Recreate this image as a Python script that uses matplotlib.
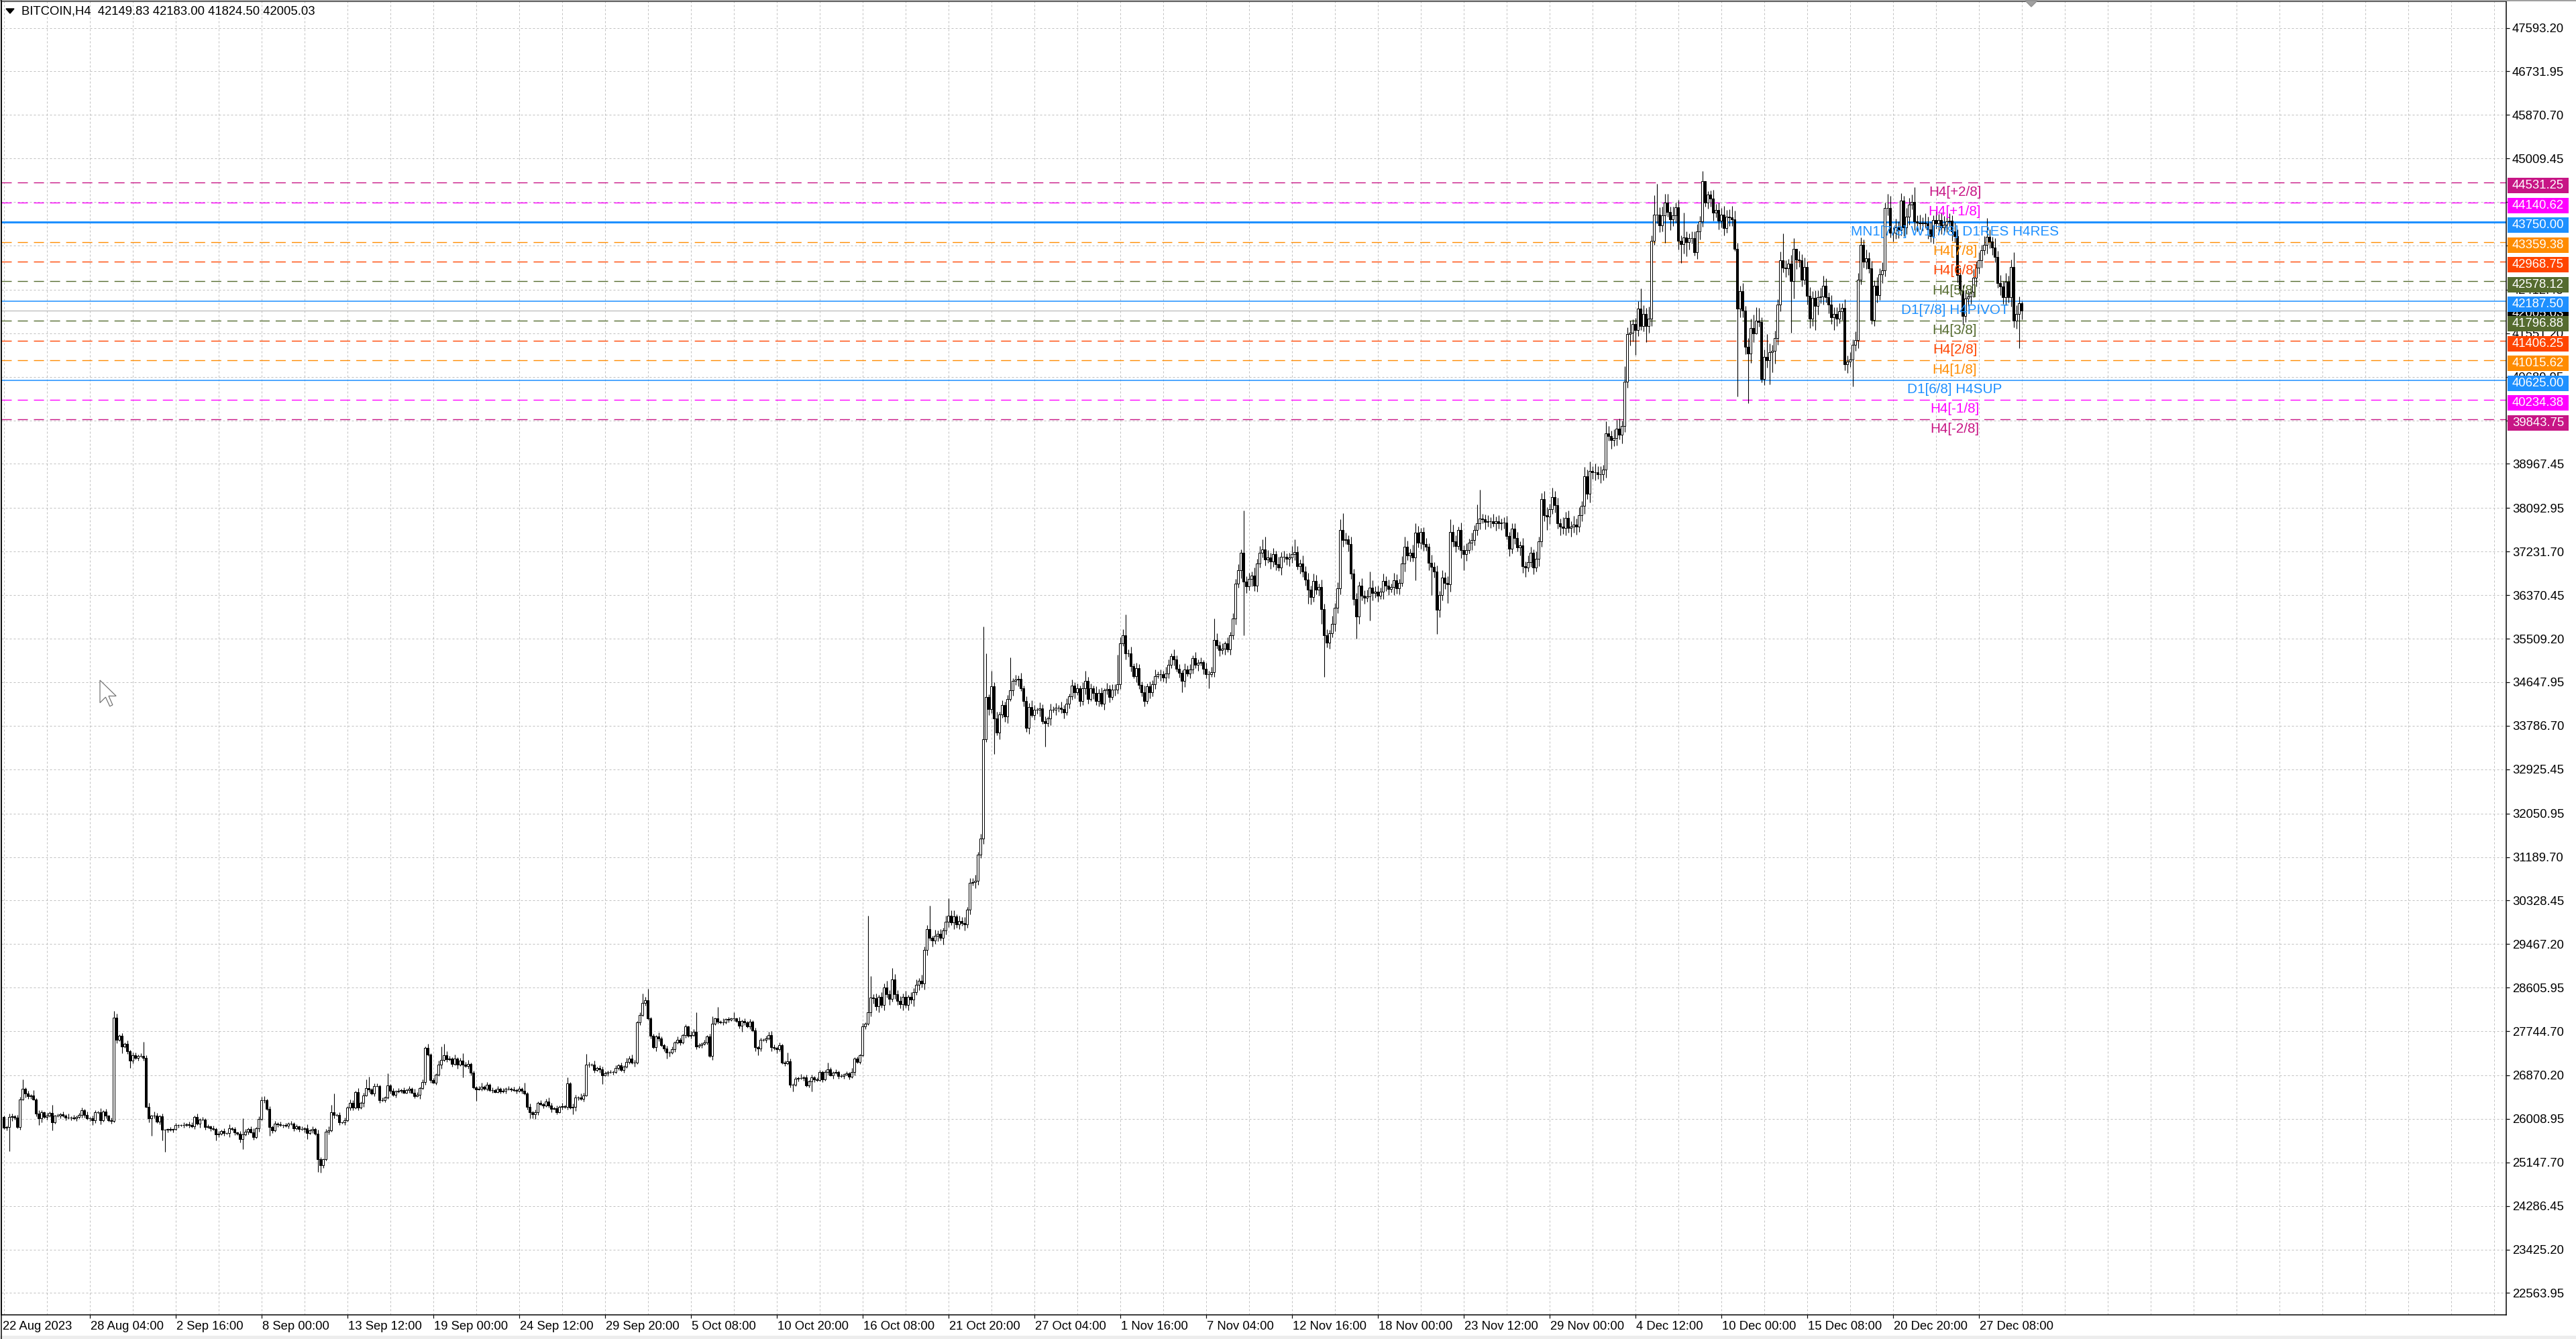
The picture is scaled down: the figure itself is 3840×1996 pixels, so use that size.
import matplotlib
matplotlib.use('Agg')
import matplotlib.pyplot as plt
import matplotlib.transforms as mtransforms
from matplotlib.patches import Rectangle, Polygon
from matplotlib.lines import Line2D

plt.rcParams['font.family'] = ['Liberation Sans', 'DejaVu Sans']

W, H, DPI = 3840, 1996, 100
PX = 72.0 / DPI  # points per pixel

# ---------------- data ----------------
header_text = "BITCOIN,H4  42149.83 42183.00 41824.50 42005.03"
first_open = 26050

# closes (H4 bars)
closes_A = [25837, 25846, 26044, 26058, 26040, 25846, 26398, 26605, 26508, 26455,
            26473, 26398, 26111, 26014, 26133, 26044, 26075, 26124, 25934, 26067,
            26067, 26097, 26075, 26031, 26036, 26031, 26022, 26049, 26080, 26177,
            26080, 26022, 26022, 25978, 26133, 26146, 25978, 26155, 26067, 25978,
            25969, 28010, 27577, 27657, 27445, 27489, 27348, 27162, 27268, 27215,
            27259, 27259, 27215, 26252, 26022, 26067, 26075, 25956, 26058, 25788,
            25788, 25802, 25788, 25802, 25881, 25881, 25881, 25890, 25899, 25890,
            25855, 26044, 25912, 26000, 26000, 25846, 25855, 25824, 25810, 25704,
            25713, 25766, 25722, 25722, 25824, 25802, 25735, 25713, 25603, 25704,
            25757, 25810, 25748, 25647, 25824, 26009, 26376, 26385, 26208, 25846,
            25780, 25912, 25899, 25881, 25881, 25868, 25912, 25912, 25824, 25855,
            25810, 25810, 25824, 25722, 25780, 25810, 25713, 25205, 25094, 25205,
            25757, 25780, 26133, 26089, 26089, 25934, 25934, 25978, 26235, 26323,
            26235, 26544, 26235, 26323, 26477, 26619, 26588, 26508, 26663, 26663,
            26376, 26385, 26429, 26676, 26561, 26486, 26552, 26570, 26583, 26530,
            26574, 26605, 26530, 26464, 26486, 26619, 26738, 27414, 27281, 26773,
            26729, 26884, 27082, 27171]
upper_A = "2132122312 1213212131 2121312122 1312213121 2321213122 1212313212 1121211212 2131212121 2121312121 2123121312 1212121212 1213121321 2312121213 2131213122 1212121212 1213212131 2131"
lower_A = "1213212132 2121312121 1212121212 2121213121 2131212321 2121312123 1212121212 1213121212 2121312122 1212131212 2121212121 2132121312 1213121212 2121312121 2121212121 1212131212 1213"
highs_A = {0: 26067, 7: 26795, 11: 26575, 18: 26288, 41: 28143, 42: 28085, 52: 27533,
           89: 26022, 96: 26442, 122: 26288, 123: 26517, 135: 26795, 136: 26840,
           143: 26906, 163: 27445}
lows_A = {0: 25810, 2: 25369, 13: 25890, 18: 25780, 33: 25890, 44: 27303, 47: 27016,
          55: 25678, 59: 25581, 60: 25351, 79: 25581, 88: 25537, 89: 25404, 99: 25669,
          113: 25603, 117: 24962, 118: 24940}

closes_B = [27272, 27183, 27206, 27095, 27206, 27082, 27161, 27082, 27051, 27095,
            26919, 26631, 26596, 26609, 26645, 26609, 26684, 26578, 26578, 26543,
            26609, 26556, 26565, 26609, 26609, 26596, 26578, 26565, 26609, 26565,
            26508, 26243, 26137, 26101, 26137, 26331, 26300, 26269, 26357, 26278,
            26212, 26225, 26146, 26243, 26256, 26243, 26711, 26234, 26243, 26433,
            26433, 26402, 26477, 27082, 27082, 27082, 26976, 27020, 26993, 26875,
            26905, 26932, 26932, 26932, 27020, 27073, 26976, 27038, 27139, 27206,
            27126, 27117, 27921, 28067, 28297, 28354, 28001, 27647, 27427, 27638,
            27594, 27471, 27404, 27316, 27316, 27390, 27524, 27568, 27515, 27669,
            27833, 27656, 27669, 27736, 27435, 27462, 27493, 27524, 27638, 27250,
            27890, 27992, 27935, 27921, 27921, 27979, 27965, 27992, 27992, 27948,
            27846, 27948, 27921, 27833, 27935, 27758, 27427, 27404, 27568, 27568,
            27603, 27669, 27427, 27418, 27391, 27471, 27117, 27108, 27152, 26684,
            26684, 26799, 26817, 26817, 26830, 26675, 26755, 26830, 26786, 26773,
            26932, 26786, 26932, 26985, 26875, 26919, 26941, 26852, 26852, 26888,
            26905, 26843, 26941, 27197, 27139, 27272, 27833, 27890, 28111, 28407]
upper_B = "2321312123 1212312121 2121212121 2131212123 2121312132 1321213122 2121212132 3212132121 3212121321 2132121212 2121312121 3121212121 2132121212 1213121212 2121212121 2131213121"
lower_B = "1212131212 2131212121 1212121212 1213121212 3121212123 2121212132 1212121212 1312121213 2121312121 2121212121 3121212121 2121213121 2132121212 2121212121 1212131212 1213121213"
highs_B = {0: 27493, 7: 27303, 30: 26720, 46: 26830, 53: 27294, 74: 28487, 76: 28584,
           94: 28111, 100: 28044, 102: 28230, 108: 28111, 121: 27727, 128: 27316,
           143: 27126, 158: 30022, 159: 28834}
lows_B = {7: 26830, 12: 26366, 32: 26022, 34: 26013, 48: 26101, 59: 26698, 83: 27197,
          111: 27736, 117: 27272, 124: 27303, 130: 26552, 137: 26552}

closes_C = [28390, 28238, 28417, 28257, 28610, 28482, 28385, 28770, 28482, 28340,
            28276, 28417, 28257, 28417, 28366, 28514, 28661, 28738, 28687, 29348,
            29765, 29585, 29540, 29624, 29668, 29585, 29733, 29906, 30035, 29893,
            30009, 29861, 29925, 29880, 29861, 30150, 30676, 30696, 30715, 31241,
            31549, 33520, 34354, 34116, 34566, 33937, 33648, 34014, 34193, 33969,
            34322, 34482, 34675, 34694, 34707, 34527, 34270, 33744, 34161, 34001,
            34097, 34097, 34129, 33872, 33840, 33924, 34097, 34097, 34142, 34142,
            34116, 34052, 34225, 34373, 34578, 34450, 34527, 34270, 34527, 34675,
            34322, 34527, 34437, 34270, 34437, 34225, 34482, 34514, 34354, 34501,
            34501, 34610, 35413, 35573, 35220, 35220, 34964, 34771, 34931, 34591,
            34450, 34270, 34566, 34450, 34610, 34771, 34803, 34803, 34739, 34822,
            34996, 35169, 35105, 34912, 34835, 34675, 34899, 34822, 34899, 35124,
            34996, 35028, 35041, 34912, 34803, 34803, 34848, 35490, 35381, 35284,
            35316, 35413, 35297, 35573, 35913]
upper_C = "3424353243 4352434253 3425342534 5243524352 4352435243 3524352435 4253425342 5342534253 3425342534 4352435243 3524352435 4253425342 5342534253 42534"
lower_C = "4352435243 3524352435 4253425342 5342534253 3425342534 5243524352 4352435243 3524352435 4253425342 5342534253 3425342534 4352435243 3524352435 35243"
highs_C = {7: 28995, 21: 30227, 28: 30375, 41: 35747, 42: 35220, 44: 34867, 51: 35143,
           79: 34867, 91: 35188, 93: 35702, 94: 35990, 127: 35913}
lows_C = {45: 33231, 64: 33372, 115: 34450, 125: 34527}

closes_D = [36594, 36859, 37204, 36638, 36541, 36691, 36762, 36558, 36991, 37212,
            37279, 37080, 37111, 37036, 37177, 36983, 36921, 37124, 37124, 37089,
            37115, 37186, 37221, 36947, 37000, 36837, 36682, 36483, 36337, 36647,
            36483, 36527, 36099, 35577, 35436, 35612, 35807, 36116, 36505, 37654,
            37456, 37478, 37380, 36793, 36293, 35953, 36558, 36364, 36320, 36350,
            36514, 36417, 36439, 36364, 36439, 36647, 36558, 36496, 36527, 36660,
            36505, 36616, 36991, 37323, 37159, 37212, 37115, 37610, 37411, 37619,
            37380, 37323, 37013, 36925, 36837, 36085, 36373, 36718, 36616, 36585,
            37619, 37433, 37345, 37654, 37257, 37177, 37265, 37411, 37455, 37654,
            37796, 37884, 37867, 37822, 37831, 37831, 37796, 37831, 37787, 37809,
            37809, 37544, 37292, 37690, 37500, 37310, 37354, 36938, 36912, 37027,
            37204, 36912, 37089, 37434, 38264, 37955, 37928, 38074, 38309]
upper_D = "4536453645 5364536453 4645364536 5364536453 4536453645 3645364536 5364536453 4536453645 6453645364 5364536453 4536453645 536453645"
lower_D = "5364536453 4536453645 6453645364 4536453645 5364536453 3645364536 4536453645 5364536453 6453645364 4536453645 5364536453 453645364"
highs_D = {3: 38039, 10: 37478, 11: 37522, 22: 37469, 39: 37867, 40: 37986, 50: 36837,
           63: 37531, 67: 37787, 80: 37876, 81: 37765, 90: 38163, 91: 38450, 92: 37973,
           103: 37787, 115: 38428, 118: 38494}
lows_D = {3: 35577, 27: 36205, 32: 35807, 33: 34759, 45: 35511, 50: 35864, 67: 36660,
          73: 36373, 75: 35599, 79: 36218, 85: 36859, 102: 37146, 107: 36815, 108: 36726,
          116: 37663}

closes_E = [38152, 37788, 37732, 37704, 37900, 37704, 37732, 37760, 37721, 37956,
            38135, 38728, 38376, 38823, 38796, 38795, 38767, 38767, 38851, 39568,
            39523, 39439, 39478, 39663, 39551, 39719, 40597, 41537, 41566, 41733,
            41621, 42041, 41694, 41929, 41694, 41845, 43384, 43899, 43899, 43692,
            43888, 44140, 43955, 43804, 43888, 44044, 43384, 43317, 43441, 43356,
            43429, 43440, 43149, 43563, 43765, 44559, 44140, 44291, 44212, 43944,
            43988, 43776, 43899, 43636, 43860, 43843, 43804, 43216, 42041, 42388,
            41996, 41286, 41146, 41661, 41549, 41806, 41780, 40653, 41078, 41023,
            41174, 41202, 41454, 42125, 42992, 42852, 42835, 42925, 42589, 43227,
            43003, 42992, 42612, 42869, 42293, 41845, 42254, 42097, 42265, 42276,
            42489, 42265, 42125, 41873, 41940]
upper_E = "5647564756 4756475647 6475647564 5647564756 7564756475 4756475647 5647564756 6475647564 7564756475 4756475647 56475"
lower_E = "6475647564 5647564756 4756475647 7564756475 5647564756 6475647564 4756475647 5647564756 6475647564 7564756475 64756"
highs_E = {13: 39008, 19: 39814, 23: 39831, 24: 39859, 26: 40894, 28: 41806, 31: 42181,
           32: 42433, 35: 42086, 37: 44280, 38: 44514, 41: 44307, 42: 44307, 45: 44140,
           48: 43944, 51: 43563, 55: 44755, 56: 44380, 57: 44363, 58: 44380, 62: 44028,
           66: 44067, 69: 42489, 73: 41845, 74: 41918, 75: 42069, 76: 42052, 77: 41873,
           79: 41537, 85: 43524, 89: 43429, 90: 43216, 93: 43048, 98: 42405, 100: 42685}
lows_E = {27: 40474, 28: 41314, 30: 41118, 32: 41621, 34: 41381, 35: 41565, 37: 43300,
          39: 43552, 41: 43339, 43: 43597, 46: 43205, 47: 42948, 48: 43132, 49: 43076,
          52: 43093, 56: 44056, 59: 43776, 61: 43608, 67: 43188, 68: 40306, 70: 41873,
          72: 40166, 74: 41370, 75: 41537, 77: 40586, 80: 40541, 81: 40782, 82: 40950,
          84: 41985, 88: 41565, 89: 42237, 92: 42478, 95: 41649, 97: 41621, 103: 41733,
          104: 41621}

closes_F = [41842, 41990, 42049, 40943, 40988, 41032, 41324, 41412, 42616, 43302,
            42969, 43036, 42837, 41819, 42492, 42306, 42713, 42801, 44031, 44031,
            43545, 43545, 43642, 43589, 44173, 43642, 43854, 44100, 44150, 43766,
            43744, 43730, 43744, 43730, 43600, 43480, 43788, 43721, 43788, 43642,
            43700, 43766, 43780, 43560, 43480, 42704, 42400, 41900, 42240, 42280,
            42370, 42650, 42850, 43000, 43200, 43300, 43460, 43364, 43254, 43060,
            42550, 42480, 42260, 42570, 42260, 42860, 41797, 41930, 42149.83, 42005.03]
upper_F = "5647564756 4756475647 6475647564 5647564756 7564756475 4756475647 5647564756"
lower_F = "6475647564 5647564756 4756475647 7564756475 5647564756 6475647564 4756475647"
highs_F = {19: 44306, 20: 44275, 29: 44438, 56: 43832, 66: 43155, 69: 42183.00}
lows_F = {4: 40766, 6: 40501, 13: 41730, 68: 41253, 69: 41824.50}

WICK_UNIT = 25  # dollars per digit in the wick strings

# price axis tick labels (as printed by the terminal)
y_ticks = [47593.20, 46731.95, 45870.70, 45009.45, 44148.20, 43286.95, 42412.45,
           41551.20, 40689.95, 39828.70, 38967.45, 38092.95, 37231.70, 36370.45,
           35509.20, 34647.95, 33786.70, 32925.45, 32050.95, 31189.70, 30328.45,
           29467.20, 28605.95, 27744.70, 26870.20, 26008.95, 25147.70, 24286.45,
           23425.20, 22563.95]

first_date_label = "22 Aug 2023"
date_labels = ["28 Aug 04:00", "2 Sep 16:00", "8 Sep 00:00", "13 Sep 12:00",
               "19 Sep 00:00", "24 Sep 12:00", "29 Sep 20:00", "5 Oct 08:00",
               "10 Oct 20:00", "16 Oct 08:00", "21 Oct 20:00", "27 Oct 04:00",
               "1 Nov 16:00", "7 Nov 04:00", "12 Nov 16:00", "18 Nov 00:00",
               "23 Nov 12:00", "29 Nov 00:00", "4 Dec 12:00", "10 Dec 00:00",
               "15 Dec 08:00", "20 Dec 20:00", "27 Dec 08:00"]
date_label_bars = [33 + 32 * k for k in range(len(date_labels))]

# Murray math levels
level_prices = [44531.25, 44140.62, 43750.00, 43359.38, 42968.75, 42578.12, 42187.50,
                41796.88, 41406.25, 41015.62, 40625.00, 40234.38, 39843.75]
level_names = ["H4[+2/8]", "H4[+1/8]", "MN1[7/8] W1[7/8] D1RES H4RES", "H4[7/8]",
               "H4[6/8]", "H4[5/8]", "D1[7/8] H4PIVOT", "H4[3/8]", "H4[2/8]",
               "H4[1/8]", "D1[6/8] H4SUP", "H4[-1/8]", "H4[-2/8]"]
level_colors = ["#C71585", "#FF00FF", "#1E90FF", "#FF8C00", "#FF4500", "#556B2F",
                "#1E90FF", "#556B2F", "#FF4500", "#FF8C00", "#1E90FF", "#FF00FF",
                "#C71585"]
level_solid = [False, False, True, False, False, False, True, False, False, False,
               True, False, False]
level_width = [1.0, 1.0, 2.2, 1.0, 1.0, 1.0, 1.1, 1.0, 1.0, 1.0, 1.1, 1.0, 1.0]
bid_price = 42005.03

# ---------------- build OHLC ----------------
segments = [(closes_A, upper_A, lower_A, highs_A, lows_A),
            (closes_B, upper_B, lower_B, highs_B, lows_B),
            (closes_C, upper_C, lower_C, highs_C, lows_C),
            (closes_D, upper_D, lower_D, highs_D, lows_D),
            (closes_E, upper_E, lower_E, highs_E, lows_E),
            (closes_F, upper_F, lower_F, highs_F, lows_F)]
O, Hh, L, C = [], [], [], []
prev = first_open
for cl, us, ls, hs, lo_d in segments:
    uw = [int(ch) for ch in us if ch.isdigit()]
    lw = [int(ch) for ch in ls if ch.isdigit()]
    for k, c in enumerate(cl):
        o = prev
        u = uw[k] if k < len(uw) else 2
        d = lw[k] if k < len(lw) else 2
        h = hs.get(k, max(o, c) + WICK_UNIT * u)
        l = lo_d.get(k, min(o, c) - WICK_UNIT * d)
        O.append(o); C.append(c)
        Hh.append(max(h, o, c)); L.append(min(l, o, c))
        prev = c
N = len(C)
X = [j + 1 for j in range(N)]

# ---------------- figure ----------------
fig = plt.figure(figsize=(W / DPI, H / DPI), dpi=DPI)
fig.patch.set_facecolor('white')
ax_left, ax_right, ax_top, ax_bot = 2, 3736, 2, 1960
ax = fig.add_axes([ax_left / W, (H - ax_bot) / H, (ax_right - ax_left) / W, (ax_bot - ax_top) / H])
ax.set_facecolor('white')
x0 = 0.125
ax.set_xlim(x0, x0 + (ax_right - ax_left) / 4.0)
ax.set_ylim(22131.3, 48118.8)
price_per_px = (48118.8 - 22131.3) / (ax_bot - ax_top)

grid_col = '#C0C0C0'
# horizontal grid
ax.hlines(y_ticks, x0, x0 + 1000, colors=grid_col, linewidth=PX,
          linestyles=[(0, (3, 3))], zorder=0.5)
# vertical grid every 16 bars
vg = list(range(1, 934, 16))
ax.vlines(vg, 22131.3, 48118.8, colors=grid_col, linewidth=PX,
          linestyles=[(0, (3, 3))], zorder=0.5)

# bid line
ax.axhline(bid_price, color='#C0C0C0', linewidth=1.4 * PX, zorder=1)

# level lines
for p, col, solid, lwid in zip(level_prices, level_colors, level_solid, level_width):
    if solid:
        ax.axhline(p, color=col, linewidth=lwid, zorder=1.2)
    else:
        ax.axhline(p, color=col, linewidth=lwid, linestyle=(0, (10.8, 6.5)), zorder=1.2)

# candles
ax.vlines(X, L, Hh, colors='black', linewidth=1.1 * PX, zorder=3)
up_x, up_b, up_h, dn_x, dn_b, dn_h = [], [], [], [], [], []
for xi, o, c in zip(X, O, C):
    if c >= o:
        up_x.append(xi); up_b.append(o); up_h.append(c - o)
    else:
        dn_x.append(xi); dn_b.append(c); dn_h.append(o - c)
ax.bar(up_x, up_h, bottom=up_b, width=0.55, facecolor='white', edgecolor='black',
       linewidth=1.0 * PX, zorder=4)
ax.bar(dn_x, dn_h, bottom=dn_b, width=0.55, facecolor='black', edgecolor='black',
       linewidth=1.0 * PX, zorder=4)

# level text labels on chart
label_x = x0 + (2914 - ax_left) / 4.0
for p, name, col in zip(level_prices, level_names, level_colors):
    ax.annotate(name, xy=(label_x, p), xytext=(0, -19.4 * PX), textcoords='offset points',
                ha='center', va='baseline', color=col, fontsize=14.9, zorder=6,
                annotation_clip=False)

# axes styling
for s in ax.spines.values():
    s.set_color('black')
    s.set_linewidth(1.5 * PX)
ax.yaxis.tick_right()
ax.set_yticks(y_ticks)
ax.set_yticklabels([f"{v:.2f}" for v in y_ticks])
ax.tick_params(axis='y', direction='out', length=5 * PX, width=1.2 * PX, pad=4 * PX,
               labelsize=13.3, colors='black')
ax.set_xticks(date_label_bars)
ax.set_xticklabels([''] * len(date_label_bars))
ax.tick_params(axis='x', direction='out', length=5 * PX, width=1.2 * PX)

# x date labels
tr_x = mtransforms.blended_transform_factory(ax.transData, fig.transFigure)
ylab = (H - 1978) / H
ax.text(x0 + 0.6, ylab, first_date_label, transform=tr_x, ha='left', va='center',
        fontsize=13.3, color='black', clip_on=False)
for b, lab in zip(date_label_bars, date_labels):
    ax.text(b + 0.3, ylab, lab, transform=tr_x, ha='left', va='center',
            fontsize=13.3, color='black', clip_on=False)

# price boxes on the right axis (drawn a few pixels below their level, as in the terminal)
tr_y = mtransforms.blended_transform_factory(fig.transFigure, ax.transData)
box_h = 23 * price_per_px
box_shift = 4.6 * price_per_px
def price_box(price, face, z):
    yc = price - box_shift
    r = Rectangle((3738 / W, yc - box_h / 2), 91 / W, box_h, transform=tr_y,
                  facecolor=face, edgecolor='none', zorder=z)
    fig.add_artist(r)
    t = fig.text(3745 / W, yc, f"{price:.2f}", transform=tr_y, ha='left',
                 va='center', color='white', fontsize=13.3, zorder=z + 0.5)
    return r, t
price_box(bid_price, 'black', 2)
for i, (p, col) in enumerate(zip(level_prices, level_colors)):
    price_box(p, col, 3 + i * 0.01)

# header
fig.text(32 / W, (H - 17) / H, header_text, ha='left', va='center', fontsize=13.3,
         color='black')
fig.add_artist(Polygon([(9 / W, (H - 13) / H), (21 / W, (H - 13) / H), (15 / W, (H - 20) / H)],
                       closed=True, facecolor='black', edgecolor='black',
                       transform=fig.transFigure, zorder=5))

# chart-shift marker
fig.add_artist(Polygon([(3019 / W, (H - 1) / H), (3037 / W, (H - 1) / H), (3028 / W, (H - 10) / H)],
                       closed=True, facecolor='#A0A0A0', edgecolor='#909090',
                       transform=fig.transFigure, zorder=5))

# mouse cursor
tip = (149, 1014)
shape = [(0, 0), (0, 16), (4, 12), (7, 18.5), (9, 17.5), (6.2, 11.2), (11.5, 11.2)]
sc = 2.1
fig.add_artist(Polygon([((tip[0] + dx * sc) / W, (H - tip[1] - dy * sc) / H) for dx, dy in shape],
                       closed=True, facecolor='white', edgecolor='#707070', linewidth=1.2 * PX,
                       transform=fig.transFigure, zorder=5))

# window frame bits
fig.add_artist(Line2D([0, 1], [(H - 0.5) / H] * 2, color='#A0A0A0', linewidth=2 * PX,
                      transform=fig.transFigure))
fig.add_artist(Line2D([2 / W, 2 / W], [0, 1], color='black', linewidth=1.5 * PX,
                      transform=fig.transFigure))
fig.add_artist(Rectangle((0, 0), 1, 5 / H, transform=fig.transFigure,
                         facecolor='#EDEDED', edgecolor='none', zorder=0.1))

fig.savefig('out.png', dpi=DPI, facecolor='white')
